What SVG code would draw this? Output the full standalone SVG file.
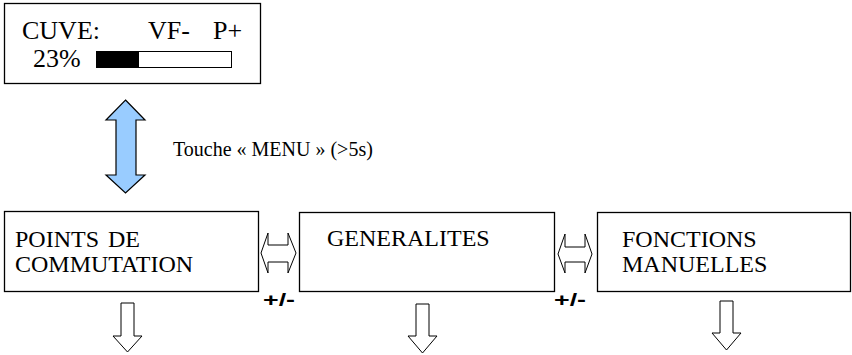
<svg xmlns="http://www.w3.org/2000/svg" width="852" height="355" viewBox="0 0 852 355">
<style>
.box{fill:#fff;stroke:#000;stroke-width:1.3}
.t{font-family:'Liberation Serif','DejaVu Serif',serif;fill:#000}
.pm{font-family:'Liberation Sans',Arial,sans-serif;font-weight:bold;font-size:18px;fill:#000}
.ar{fill:#fff;stroke:#000;stroke-width:1}
.big{fill:#99ccff;stroke:#000;stroke-width:1.2;stroke-linejoin:miter}
</style>
<rect width="852" height="355" fill="#fff"/>
<g id="display">
<rect class="box" x="4.5" y="3.5" width="256" height="80"/>
<text class="t" x="22" y="39" font-size="26">CUVE:</text>
<text class="t" x="148" y="39" font-size="26">VF-</text>
<text class="t" x="213" y="39" font-size="26">P+</text>
<text class="t" x="33" y="67" font-size="26">23%</text>
<rect x="96.5" y="51.5" width="135" height="16" fill="#fff" stroke="#000" stroke-width="1"/>
<rect x="96.5" y="51.5" width="42.5" height="16" fill="#000"/>
</g>
<g id="points">
<rect class="box" x="4.5" y="211.5" width="254" height="80"/>
<text class="t" x="15" y="247" font-size="24">POINTS</text>
<text class="t" x="108" y="247" font-size="24">DE</text>
<text class="t" x="15" y="272" font-size="24">COMMUTATION</text>
</g>
<g id="generalites">
<rect class="box" x="299.5" y="212.5" width="255" height="79"/>
<text class="t" x="327" y="246" font-size="24">GENERALITES</text>
</g>
<g id="fonctions">
<rect class="box" x="597.5" y="212.5" width="253" height="79"/>
<text class="t" x="622" y="247" font-size="24">FONCTIONS</text>
<text class="t" x="622" y="272" font-size="24">MANUELLES</text>
</g>
<g id="connectors">
<polygon class="big" points="125.5,100 145,120 136,120 136,175 145,175 125.5,193 106,175 116,175 116,120 106,120"/>
<text class="t" x="173" y="156" font-size="20">Touche « MENU » (&gt;5s)</text>
<polygon class="ar" points="261,253 268,233 268,245 288,245 288,233 296,253 288,273 288,262 268,262 268,273"/>
<polygon class="ar" points="558,254 565,234 565,247 585,247 585,234 592,254 585,273 585,262 565,262 565,273"/>
<text class="pm" x="263" y="306" textLength="32" lengthAdjust="spacingAndGlyphs">+/-</text>
<text class="pm" x="554" y="306" textLength="32" lengthAdjust="spacingAndGlyphs">+/-</text>
<polygon class="ar" points="121,303 134,303 134,336 142,336 127.5,352 113,336 121,336"/>
<polygon class="ar" points="416,304 429,304 429,336 437,336 422.5,353 408,336 416,336"/>
<polygon class="ar" points="720,301 733,301 733,333 741,333 726.5,350 712,333 720,333"/>
</g>
</svg>
